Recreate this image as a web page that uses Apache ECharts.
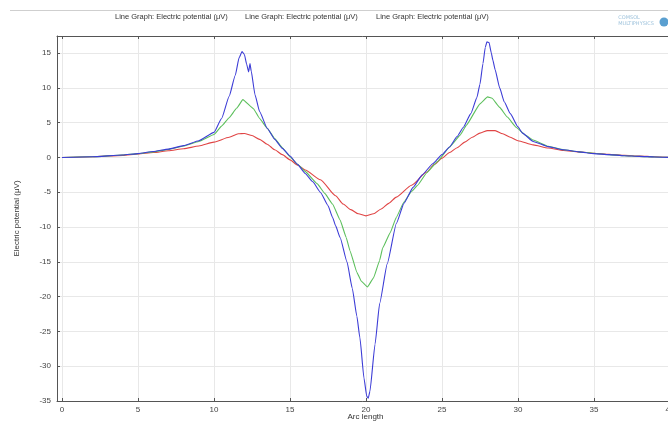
<!DOCTYPE html>
<html>
<head>
<meta charset="utf-8">
<script src="https://cdn.jsdelivr.net/npm/echarts@6/dist/echarts.min.js"></script>
<style>html,body{margin:0;padding:0;background:#fff;}#c{width:668px;height:423px;}</style>
</head>
<body>
<div id="c"></div>
<script>
// ---- data ----
var xTicks = [0, 5, 10, 15, 20, 25, 30, 35, 40];
var yTicks = [-35, -30, -25, -20, -15, -10, -5, 0, 5, 10, 15];
var legendLabels = ['Line Graph: Electric potential (\u03bcV)', 'Line Graph: Electric potential (\u03bcV)', 'Line Graph: Electric potential (\u03bcV)'];

var blueX = [0, 2, 4, 5, 6, 7, 8, 9, 10, 10.5, 11, 11.4, 11.65, 11.85, 12.0, 12.15, 12.28, 12.37, 12.45, 12.7, 13.0, 13.5, 14, 14.5, 15, 15.5, 16, 16.5, 17, 17.5, 17.8, 18, 18.3, 18.75, 19.1, 19.4, 19.6, 19.87, 20.05, 20.15, 20.26, 20.6, 20.9, 21.4, 22, 22.5, 23.1, 23.7, 24.4, 25, 25.5, 26, 26.4, 26.9, 27.3, 27.5, 27.7, 27.85, 27.96, 28.1, 28.25, 28.35, 28.5, 28.8, 29.1, 29.5, 30, 30.3, 31, 32, 33, 34, 35, 36, 37, 38, 39, 40];
var blueY = [0, 0.1, 0.35, 0.55, 0.85, 1.2, 1.7, 2.4, 3.6, 5.6, 8.8, 11.8, 14.3, 15.2, 14.8, 13.4, 12.3, 13.5, 12.4, 9.0, 6.6, 4.2, 2.6, 1.3, 0.2, -1.0, -2.3, -3.5, -5.0, -6.9, -8.6, -9.8, -11.5, -15.0, -18.8, -22.8, -25.9, -31.7, -34.3, -34.6, -33.6, -26.8, -21.0, -15.3, -9.5, -6.6, -4.3, -2.5, -0.9, 0.4, 1.5, 3.0, 4.3, 6.3, 8.6, 10.5, 13.5, 15.8, 16.6, 16.5, 15.0, 14.0, 12.6, 10.0, 8.0, 6.3, 4.4, 3.5, 2.3, 1.55, 1.1, 0.8, 0.55, 0.4, 0.25, 0.15, 0.07, 0];

var greenX = [0, 2, 4, 5, 6, 7, 8, 9, 10, 10.5, 11, 11.5, 11.9, 12.6, 13, 13.5, 14, 14.5, 15, 15.5, 16, 16.8, 17.3, 17.8, 18.3, 18.7, 18.95, 19.4, 19.7, 20.1, 20.5, 20.9, 21.1, 21.6, 22.0, 22.5, 23, 23.4, 24, 24.7, 25.5, 26.2, 26.6, 27.5, 28.0, 28.3, 28.8, 29.3, 29.9, 30.5, 31, 32, 33, 34, 35, 36, 37, 38, 39, 40];
var greenY = [0, 0.1, 0.35, 0.55, 0.8, 1.15, 1.65, 2.3, 3.3, 4.5, 5.7, 7.1, 8.3, 7.0, 5.6, 4.2, 2.7, 1.4, 0.1, -1.0, -2.0, -3.8, -5.2, -6.7, -9.0, -11.5, -13.4, -16.5, -17.8, -18.6, -17.3, -14.8, -13.0, -10.8, -8.6, -6.4, -4.9, -4.0, -2.2, -0.6, 1.5, 3.2, 4.6, 7.7, 8.7, 8.5, 7.2, 5.8, 4.3, 3.2, 2.5, 1.6, 1.1, 0.8, 0.6, 0.4, 0.25, 0.15, 0.07, 0];

var redX = [0, 2, 4, 5, 6, 7, 8, 9, 10, 11, 11.6, 12, 12.5, 13, 13.5, 14, 14.5, 15, 15.5, 16, 17, 18, 18.5, 19, 19.5, 20, 20.5, 21, 21.5, 22, 23, 24, 24.5, 25, 25.5, 26, 26.5, 27, 27.5, 28, 28.5, 29, 29.5, 30, 31, 32, 33, 34, 35, 36, 37, 38, 39, 40];
var redY = [0, 0.1, 0.3, 0.5, 0.7, 0.95, 1.25, 1.65, 2.2, 2.9, 3.4, 3.45, 3.15, 2.6, 1.9, 1.1, 0.4, -0.35, -1.1, -1.8, -3.2, -5.5, -6.7, -7.5, -8.1, -8.4, -8.1, -7.4, -6.6, -5.7, -4.0, -2.1, -1.0, -0.1, 0.7, 1.4, 2.2, 2.9, 3.5, 3.85, 3.85, 3.4, 2.9, 2.4, 1.8, 1.35, 1.0, 0.8, 0.6, 0.45, 0.3, 0.2, 0.1, 0];

function pairs(xs, ys) { return xs.map(function (x, i) { return [x, ys[i]]; }); }

var chart = echarts.init(document.getElementById('c'), null, { renderer: 'canvas' });
var axisColor = '#555';
var labelFont = { color: '#444', fontSize: 8, fontFamily: 'Liberation Sans, Arial, sans-serif' };

var option = {
  animation: false,
  backgroundColor: '#fff',
  grid: { left: 57, right: -6, top: 36, bottom: 22, containLabel: false, outerBoundsMode: 'none' },
  xAxis: [{
    type: 'value', min: -0.33, max: 40.27, position: 'bottom',
    name: 'Arc length', nameLocation: 'middle', nameGap: 12, nameMoveOverlap: false,
    nameTextStyle: { color: '#333', fontSize: 8, fontFamily: 'Liberation Sans, Arial, sans-serif' },
    axisLine: { show: true, onZero: false, lineStyle: { color: axisColor, width: 1 } },
    axisTick: { show: true, inside: true, length: 3, customValues: xTicks, lineStyle: { color: axisColor } },
    axisLabel: Object.assign({ customValues: xTicks, margin: 5 }, labelFont),
    splitLine: { show: true, lineStyle: { color: '#e8e8e8', width: 1 } }
  }, {
    type: 'value', min: -0.33, max: 40.27, position: 'top',
    axisLine: { show: true, onZero: false, lineStyle: { color: axisColor, width: 1 } },
    axisTick: { show: true, inside: true, length: 3, customValues: xTicks, lineStyle: { color: axisColor } },
    axisLabel: { show: false },
    splitLine: { show: false }
  }],
  yAxis: {
    type: 'value', min: -35, max: 17.45,
    name: 'Electric potential (\u03bcV)', nameLocation: 'middle', nameGap: 36, nameMoveOverlap: false,
    nameTextStyle: { color: '#333', fontSize: 8, fontFamily: 'Liberation Sans, Arial, sans-serif' },
    axisLine: { show: true, onZero: false, lineStyle: { color: axisColor, width: 1 } },
    axisTick: { show: true, inside: true, length: 3, customValues: yTicks, lineStyle: { color: axisColor } },
    axisLabel: Object.assign({ customValues: yTicks, margin: 6 }, labelFont),
    splitLine: { show: true, lineStyle: { color: '#e8e8e8', width: 1 } }
  },
  series: [
    { type: 'line', name: 'blue', xAxisIndex: 0, data: pairs(blueX, blueY), showSymbol: false, smooth: 0.15, smoothMonotone: 'x', lineStyle: { color: '#3c3cd6', width: 1.1 }, itemStyle: { color: '#3c3cd6' }, z: 4 },
    { type: 'line', name: 'green', xAxisIndex: 0, data: pairs(greenX, greenY), showSymbol: false, smooth: 0.1, smoothMonotone: 'x', lineStyle: { color: '#5cbf5c', width: 1.1 }, itemStyle: { color: '#5cbf5c' }, z: 3 },
    { type: 'line', name: 'red', xAxisIndex: 0, data: pairs(redX, redY), showSymbol: false, smooth: 0.2, smoothMonotone: 'x', lineStyle: { color: '#e04444', width: 1.1 }, itemStyle: { color: '#e04444' }, z: 2 }
  ],
  graphic: [
    { type: 'line', shape: { x1: 10, y1: 10.5, x2: 668, y2: 10.5 }, style: { stroke: '#cfcfcf', lineWidth: 1 } },
    { type: 'text', left: 115, top: 13, style: { text: legendLabels[0], fill: '#333', fontSize: 7.5, fontFamily: 'Liberation Sans, Arial, sans-serif' } },
    { type: 'text', left: 245, top: 13, style: { text: legendLabels[1], fill: '#333', fontSize: 7.5, fontFamily: 'Liberation Sans, Arial, sans-serif' } },
    { type: 'text', left: 376, top: 13, style: { text: legendLabels[2], fill: '#333', fontSize: 7.5, fontFamily: 'Liberation Sans, Arial, sans-serif' } },
    { type: 'text', right: 14, top: 15, style: { text: 'COMSOL\nMULTIPHYSICS', fill: '#9fc3dc', fontSize: 5, align: 'right', lineHeight: 6, fontFamily: 'DejaVu Sans, sans-serif' } },
    { type: 'circle', shape: { cx: 664, cy: 22, r: 4.5 }, style: { fill: '#5a9fd0' } }
  ]
};
chart.setOption(option);
</script>
</body>
</html>
